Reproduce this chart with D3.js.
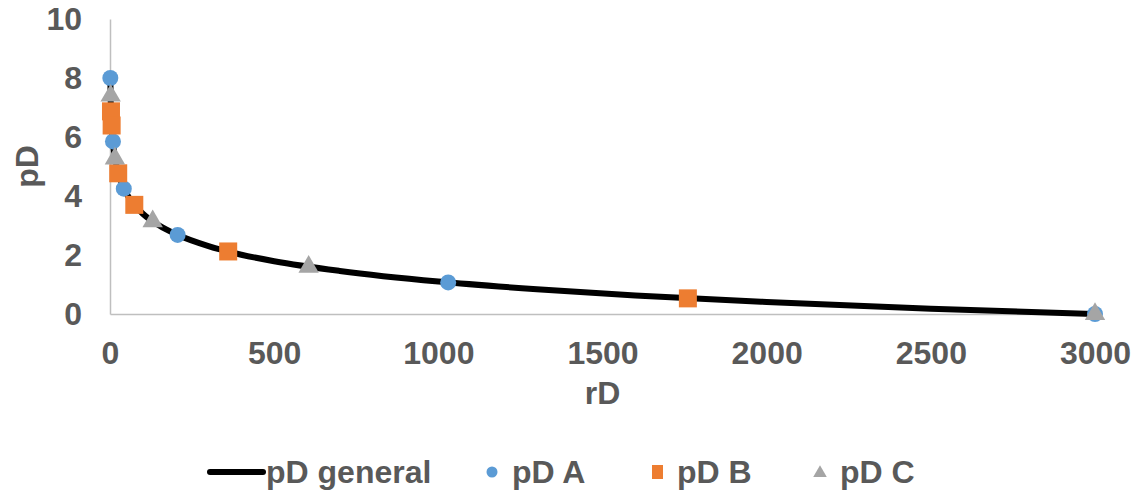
<!DOCTYPE html>
<html>
<head>
<meta charset="utf-8">
<script src="https://cdn.jsdelivr.net/npm/d3@7"></script>
<style>
  body { margin: 0; background: #fff; }
  svg { display: block; font-family: "Liberation Sans", Arial, sans-serif; }
</style>
</head>
<body>
<svg id="root" width="1136" height="493"></svg>
<script>
"use strict";

// curve
const generalX = [1, 2, 3, 5, 8, 12, 20, 30, 50, 75, 100, 150, 200, 300, 400, 500, 700, 1000, 1300, 1600, 2000, 2500, 3000];
const generalY = [8.01, 7.31, 6.91, 6.4, 5.93, 5.52, 5.01, 4.61, 4.09, 3.69, 3.4, 3.0, 2.71, 2.3, 2.01, 1.79, 1.46, 1.1, 0.84, 0.63, 0.41, 0.18, 0.0];

// marker series
const seriesAX = [1, 9, 42, 206, 1030, 3000];
const seriesAY = [8.0, 5.85, 4.25, 2.68, 1.07, 0.0];
const seriesBX = [3, 5, 25, 74, 360, 1760];
const seriesBY = [6.87, 6.39, 4.77, 3.7, 2.12, 0.53];
const seriesCX = [2, 15, 130, 605, 3000];
const seriesCY = [7.4, 5.27, 3.14, 1.6, 0.0];

const xTicks = [0, 500, 1000, 1500, 2000, 2500, 3000];
const yTicks = [0, 2, 4, 6, 8, 10];
const legendNames = ["pD general", "pD A", "pD B", "pD C"];

const textColor = "#595959";
const fontSize = "32px";
const margin = { left: 110, right: 41, top: 19, bottom: 179 };
const width = 1136, height = 493;

const svg = d3.select("#root");

const xScale = d3.scaleLinear().domain([0, 3000]).range([margin.left, width - margin.right]);
const yScale = d3.scaleLinear().domain([0, 10]).range([height - margin.bottom, margin.top]);

// axes
const xAxis = svg.append("g")
  .attr("transform", `translate(0, ${yScale(0)})`)
  .call(d3.axisBottom(xScale).tickValues(xTicks).tickFormat(d3.format("d")).tickSize(0).tickPadding(27));
const yAxis = svg.append("g")
  .attr("transform", `translate(${xScale(0)}, 0)`)
  .call(d3.axisLeft(yScale).tickValues(yTicks).tickFormat(d3.format("d")).tickSize(0).tickPadding(28));

[xAxis, yAxis].forEach((ax) => {
  ax.select(".domain").attr("stroke", "#bfbfbf").attr("stroke-width", 1.5);
  ax.selectAll("text")
    .attr("fill", textColor)
    .style("font-size", fontSize)
    .style("font-weight", "bold")
    .style("font-family", "'Liberation Sans', Arial, sans-serif");
});
xAxis.selectAll("text").attr("dy", "0.71em");

// axis titles
svg.append("text")
  .attr("x", (xScale(0) + xScale(3000)) / 2)
  .attr("y", 404)
  .attr("text-anchor", "middle")
  .attr("fill", textColor)
  .style("font-size", fontSize)
  .style("font-weight", "bold")
  .text("rD");
svg.append("text")
  .attr("transform", `translate(38, ${(yScale(0) + yScale(10)) / 2}) rotate(-90)`)
  .attr("text-anchor", "middle")
  .attr("fill", textColor)
  .style("font-size", fontSize)
  .style("font-weight", "bold")
  .text("pD");

// general curve
const generalData = generalX.map((x, i) => ({ x, y: generalY[i] }));
svg.append("path")
  .datum(generalData)
  .attr("fill", "none")
  .attr("stroke", "#000")
  .attr("stroke-width", 6)
  .attr("stroke-linecap", "round")
  .attr("d", d3.line().x((d) => xScale(d.x)).y((d) => yScale(d.y)).curve(d3.curveMonotoneX));

const toPoints = (xs, ys) => xs.map((x, i) => ({ x, y: ys[i] }));

// series A circles
svg.append("g").selectAll("circle")
  .data(toPoints(seriesAX, seriesAY))
  .join("circle")
  .attr("cx", (d) => xScale(d.x))
  .attr("cy", (d) => yScale(d.y))
  .attr("r", 8)
  .attr("fill", "#5b9bd5");

// series B squares
svg.append("g").selectAll("rect")
  .data(toPoints(seriesBX, seriesBY))
  .join("rect")
  .attr("x", (d) => xScale(d.x) - 9)
  .attr("y", (d) => yScale(d.y) - 9)
  .attr("width", 18)
  .attr("height", 18)
  .attr("fill", "#ed7d31");

// series C triangles
const triangle = d3.symbol().type(d3.symbolTriangle).size(180);
svg.append("g").selectAll("path")
  .data(toPoints(seriesCX, seriesCY))
  .join("path")
  .attr("d", triangle)
  .attr("transform", (d) => `translate(${xScale(d.x)}, ${yScale(d.y)})`)
  .attr("fill", "#a5a5a5");

// legend
const legend = svg.append("g").attr("transform", "translate(0, 472)");
const legendX = [208, 482, 647, 810];
legend.selectAll("text")
  .data(legendNames)
  .join("text")
  .attr("x", (d, i) => (i === 0 ? legendX[i] + 58 : legendX[i] + 30))
  .attr("y", 0)
  .attr("dy", "0.35em")
  .attr("fill", textColor)
  .style("font-size", fontSize)
  .style("font-weight", "bold")
  .text((d) => d);

legend.append("line")
  .attr("x1", legendX[0] + 2).attr("x2", legendX[0] + 55)
  .attr("y1", 0).attr("y2", 0)
  .attr("stroke", "#000").attr("stroke-width", 6).attr("stroke-linecap", "round");
legend.append("circle")
  .attr("cx", legendX[1] + 10).attr("cy", 0).attr("r", 5.5).attr("fill", "#5b9bd5");
legend.append("rect")
  .attr("x", legendX[2] + 5).attr("y", -7).attr("width", 11).attr("height", 14).attr("fill", "#ed7d31");
legend.append("path")
  .attr("d", d3.symbol().type(d3.symbolTriangle).size(80))
  .attr("transform", `translate(${legendX[3] + 10}, 1)`)
  .attr("fill", "#a5a5a5");
</script>
</body>
</html>
